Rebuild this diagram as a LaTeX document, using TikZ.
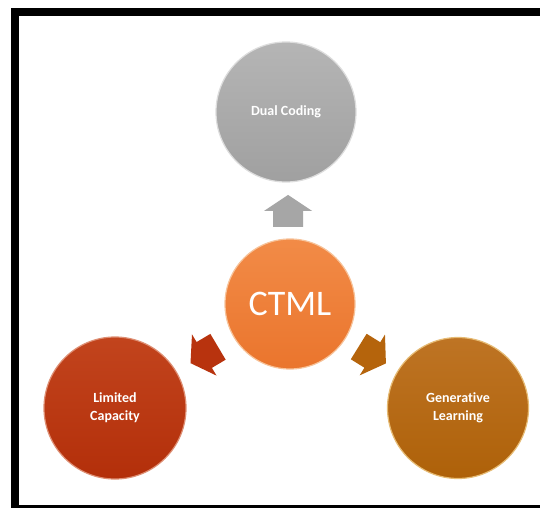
\documentclass[tikz,border=0pt]{standalone}
\usepackage{fontspec}
\setmainfont[RawFeature={-liga;-dlig;-clig}]{Carlito}
\usetikzlibrary{calc}
\definecolor{grayT}{HTML}{B5B5B5}
\definecolor{grayB}{HTML}{A0A0A0}
\definecolor{grayR}{HTML}{DDDDDD}
\definecolor{orT}{HTML}{F28B47}
\definecolor{orB}{HTML}{EA752D}
\definecolor{orR}{HTML}{F7C39A}
\definecolor{redT}{HTML}{C2441D}
\definecolor{redB}{HTML}{B32F0A}
\definecolor{redR}{HTML}{DE8F74}
\definecolor{brT}{HTML}{BE7424}
\definecolor{brB}{HTML}{AE6109}
\definecolor{brR}{HTML}{E6BB74}
\definecolor{arrGray}{HTML}{A6A6A6}
\definecolor{arrRed}{HTML}{B8330E}
\definecolor{arrBr}{HTML}{B5640C}
\begin{document}
\begin{tikzpicture}[x=1pt,y=-1pt,
  bubble/.style={circle, inner sep=0pt, text=white, align=center, line width=1.2pt,
    font=\bfseries\fontsize{14}{18}\selectfont},
  blockarrow/.pic={\fill[pic actions] (-16,-15) -- (0,-15) -- (0,-24) -- (16,0) -- (0,24) -- (0,15) -- (-16,15) -- cycle;}]
\useasboundingbox (0,0) rectangle (540,508);
\fill[white] (0,0) rectangle (540,508);
% frame
\fill[black] (11,8) rectangle (540,16);
\fill[black] (11,8) rectangle (19,508);
\fill[black] (11,505) rectangle (540,508);
% circles
\node[bubble, minimum size=140pt, top color=grayT, bottom color=grayB, draw=grayR] (dual) at (286,112) {Dual Coding};
\node[bubble, minimum size=130pt, top color=orT, bottom color=orB, draw=orR,
  font=\fontsize{36}{40}\selectfont] (ctml) at (290,304) {CTML};
\node[bubble, minimum size=142pt, top color=redT, bottom color=redB, draw=redR] (lc) at (115,408) {Limited\\Capacity};
\node[bubble, minimum size=141pt, top color=brT, bottom color=brB, draw=brR] (gl) at (458,408) {Generative\\Learning};
% arrows
\pic[fill=arrGray, rotate=90] (aup) at ($(ctml)!0.485!(dual)$) {blockarrow};
\pic[fill=arrRed, rotate=210.7] (aleft) at ($(ctml)!0.49!(lc)$) {blockarrow};
\pic[fill=arrBr, rotate=-31.8] (aright) at ($(ctml)!0.49!(gl)$) {blockarrow};
\end{tikzpicture}
\end{document}
